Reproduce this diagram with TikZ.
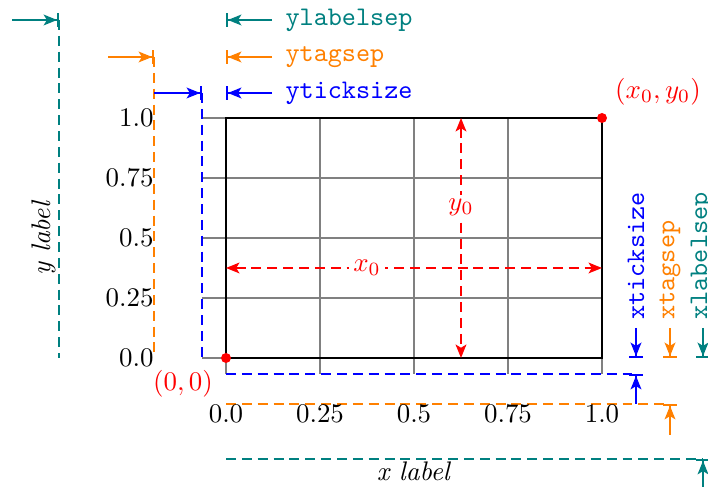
\documentclass[tikz,border=0pt]{standalone}
\usetikzlibrary{arrows.meta}
\begin{document}
\begin{tikzpicture}[x=0.372pt,y=-0.372pt,
  gridline/.style={gray,line width=0.75pt},
  frame/.style={black,line width=1.1pt},
  guide/.style={line width=0.75pt,dash pattern=on 3.7pt off 2.2pt},
  measure/.style={line width=0.7pt,-{Stealth[length=5pt,width=4pt,inset=1.2pt,sep=0pt]Bar[width=5pt]}},
  dimarrow/.style={red,line width=0.7pt,dash pattern=on 3.7pt off 2.2pt,{Stealth[length=5pt,width=4pt,inset=1.2pt]}-{Stealth[length=5pt,width=4pt,inset=1.2pt]}},
  ttlabel/.style={font=\ttfamily,inner sep=0pt},
  tick/.style={inner sep=0pt},
]
\useasboundingbox (0,0) rectangle (708,487);

% key coordinates
\coordinate (O) at (226,358);
\coordinate (TR) at (602,118);

% grid and tick lines
\foreach \y in {118,178,238,298,358} \draw[gridline] (202,\y) -- (602,\y);
\foreach \x in {226,320,414,508,602} \draw[gridline] (\x,118) -- (\x,374);

% frame
\draw[frame] (O) rectangle (TR);

% guide lines
\coordinate (tv1) at (59,20);   \coordinate (tv2) at (59,358);
\coordinate (ov1) at (154,57);  \coordinate (ov2) at (154,358);
\coordinate (bv1) at (202,93);  \coordinate (bv2) at (202,358);
\coordinate (bh1) at (226,374); \coordinate (bh2) at (636,374);
\coordinate (oh1) at (226,404); \coordinate (oh2) at (670,404);
\coordinate (th1) at (226,459); \coordinate (th2) at (703,459);
\draw[guide,teal] (tv1) -- (tv2);
\draw[guide,orange] (ov1) -- (ov2);
\draw[guide,blue] (bv1) -- (bv2);
\draw[guide,blue] (bh1) -- (bh2);
\draw[guide,orange] (oh1) -- (oh2);
\draw[guide,teal] (th1) -- (th2);

% top-left measure arrows
\coordinate (a1) at (12,20);   \draw[measure,teal] (a1) -- (tv1);
\coordinate (a2) at (108,57);  \draw[measure,orange] (a2) -- (ov1);
\coordinate (a3) at (154,93);  \draw[measure,blue] (a3) -- (bv1);

% top-right legend arrows
\coordinate (l1s) at (272,20); \coordinate (l1e) at (226,20);
\coordinate (l2s) at (272,57); \coordinate (l2e) at (226,57);
\coordinate (l3s) at (272,93); \coordinate (l3e) at (226,93);
\draw[measure,teal] (l1s) -- (l1e);
\draw[measure,orange] (l2s) -- (l2e);
\draw[measure,blue] (l3s) -- (l3e);
\node[ttlabel,teal,anchor=west] (ylsep) at (285,20) {ylabelsep};
\node[ttlabel,orange,anchor=west] (ytsep) at (285,57) {ytagsep};
\node[ttlabel,blue,anchor=west] (ytsize) at (285,93) {yticksize};

% right legend arrows
\coordinate (r1s) at (636,328); \coordinate (r1e) at (636,358);
\coordinate (r2s) at (670,328); \coordinate (r2e) at (670,358);
\coordinate (r3s) at (703,328); \coordinate (r3e) at (703,358);
\draw[measure,blue] (r1s) -- (r1e);
\draw[measure,orange] (r2s) -- (r2e);
\draw[measure,teal] (r3s) -- (r3e);
\node[ttlabel,blue,rotate=90,anchor=west] (xtsize) at (636,320) {xticksize};
\node[ttlabel,orange,rotate=90,anchor=west] (xtsep) at (670,320) {xtagsep};
\node[ttlabel,teal,rotate=90,anchor=west] (xlsep) at (702,320) {xlabelsep};

% bottom-right measure arrows
\coordinate (b1) at (636,404); \draw[measure,blue] (b1) -- (bh2);
\coordinate (b2) at (670,435); \draw[measure,orange] (b2) -- (oh2);
\coordinate (b3) at (703,490); \draw[measure,teal] (b3) -- (th2);

% y tick labels
\node[tick,anchor=east] (yt0) at (154,358) {$0.0$};
\node[tick,anchor=east] (yt1) at (154,298) {$0.25$};
\node[tick,anchor=east] (yt2) at (154,238) {$0.5$};
\node[tick,anchor=east] (yt3) at (154,178) {$0.75$};
\node[tick,anchor=east] (yt4) at (154,118) {$1.0$};

% x tick labels
\node[tick,anchor=north] (xt0) at (226,405) {$0.0$};
\node[tick,anchor=north] (xt1) at (320,405) {$0.25$};
\node[tick,anchor=north] (xt2) at (414,405) {$0.5$};
\node[tick,anchor=north] (xt3) at (508,405) {$0.75$};
\node[tick,anchor=north] (xt4) at (602,405) {$1.0$};

% axis labels
\node[inner sep=1pt,anchor=north] (xlab) at (414,459) {\textit{x label}};
\node[inner sep=1pt,rotate=90,anchor=south] (ylab) at (59,238) {\textit{y label}};

% red dimensions
\coordinate (hx1) at (226,268); \coordinate (hx2) at (602,268);
\coordinate (vy1) at (461,118); \coordinate (vy2) at (461,358);
\draw[dimarrow] (hx1) -- (hx2);
\draw[dimarrow] (vy1) -- (vy2);
\node[red,fill=white,inner sep=1.5pt] (x0lab) at (367,268) {$x_0$};
\node[red,fill=white,inner sep=1.5pt] (y0lab) at (461,207) {$y_0$};

% red points
\fill[red] (O) circle[radius=5];
\fill[red] (TR) circle[radius=5];
\node[red,inner sep=0pt] (p0lab) at (183,384) {$(0,0)$};
\node[red,inner sep=0pt] (p1lab) at (658,92) {$(x_0,y_0)$};
\end{tikzpicture}
\end{document}
